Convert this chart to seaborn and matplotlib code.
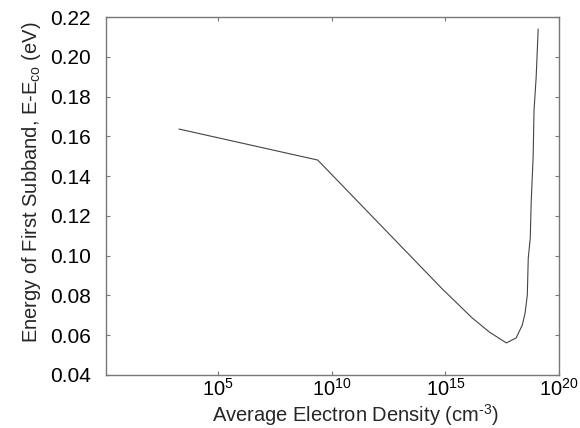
import matplotlib
matplotlib.use('Agg')
import matplotlib.pyplot as plt
import matplotlib.ticker as mticker
import numpy as np
import seaborn as sns
import pandas as pd

# data (density in cm^-3, energy in eV)
density = [1.95e3, 2.45e9, 7.4e14, 1.5e16, 8.5e16, 4.8e17,
           1.29e18, 2.4e18, 3.2e18, 4.0e18, 4.4e18, 5.4e18,
           5.9e18, 6.6e18, 7.2e18, 7.9e18, 9.8e18, 1.2e19]
energy = [0.1637, 0.1481, 0.0832, 0.0687, 0.0616, 0.0561,
          0.0586, 0.0651, 0.0712, 0.0802, 0.0988, 0.1089,
          0.1265, 0.1396, 0.1496, 0.1732, 0.1898, 0.2140]

xticks = [1e5, 1e10, 1e15, 1e20]
xticklabels = ['$10^{5}$', '$10^{10}$', '$10^{15}$', '$10^{20}$']
yticks = [0.04, 0.06, 0.08, 0.10, 0.12, 0.14, 0.16, 0.18, 0.20, 0.22]

df = pd.DataFrame({'density': density, 'energy': energy})

sns.set_style('ticks')
plt.rcParams['font.family'] = ['Liberation Sans', 'DejaVu Sans']
plt.rcParams['mathtext.fontset'] = 'custom'
plt.rcParams['mathtext.rm'] = 'Liberation Sans'
plt.rcParams['mathtext.default'] = 'regular'

fig = plt.figure(figsize=(5.8, 4.28), dpi=100)
ax = fig.add_axes([0.183, 0.124, 0.781, 0.836])

sns.lineplot(data=df, x='density', y='energy', ax=ax, color='#444444',
             linewidth=0.8, sort=False, estimator=None)

ax.set_xscale('log')
ax.set_xlim(10 ** 0.09, 1e20)
ax.set_ylim(0.04, 0.22)
ax.set_xticks(xticks)
ax.set_xticklabels(xticklabels)
ax.xaxis.set_minor_locator(mticker.NullLocator())
ax.set_yticks(yticks)
ax.set_yticklabels([f'{v:.2f}' for v in yticks])

for side in ['top', 'right', 'bottom', 'left']:
    ax.spines[side].set_visible(True)
    ax.spines[side].set_color('#777777')
    ax.spines[side].set_linewidth(1.0)

ax.tick_params(axis='both', direction='in', length=3, width=0.8, color='#777777',
               top=True, right=True, labelcolor='black')
ax.tick_params(axis='y', pad=11, labelsize=15)
ax.tick_params(axis='x', pad=2, labelsize=14.5)

ax.set_xlabel('Average Electron Density (cm$^{\\text{-}3}$)', fontsize=14.5, labelpad=2, x=0.55)
ax.set_ylabel('Energy of First Subband, E-E$_{co}$ (eV)', fontsize=14.5, labelpad=5, y=0.54)

fig.savefig('out.png', dpi=100)
